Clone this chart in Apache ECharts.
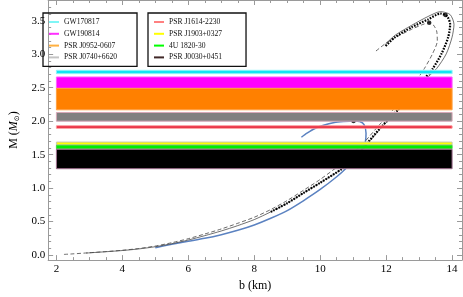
<!DOCTYPE html>
<html>
<head>
<meta charset="utf-8">
<script src="https://cdn.jsdelivr.net/npm/echarts@6/dist/echarts.min.js"></script>
<style>html,body{margin:0;padding:0;background:#fff}#c{width:463px;height:297px}</style>
</head>
<body>
<div id="c"></div>
<script>
// ---- data ----
var bandNames = ['GW170817','GW190814','PSR J0952-0607','PSR J0740+6620','PSR J1614-2230','PSR J1903+0327','4U 1820-30','PSR J0030+0451'];
var bandLo = [2.71, 2.49, 2.17, 2.00, 1.895, 1.646, 1.59, 1.29];
var bandHi = [2.76, 2.66, 2.49, 2.13, 1.93, 1.688, 1.64, 1.58];
var bandSpan = [2, 14];
// curve A (blue solid)
var curveA = [[5.0,0.11],[5.5,0.16],[6.0,0.205],[6.5,0.25],[7.0,0.305],[7.5,0.37],[8.0,0.45],[8.5,0.55],[9.0,0.665],[9.5,0.815],[10.0,0.98],[10.5,1.17],[10.77,1.29],[11.1,1.46],[11.3,1.6],[11.37,1.69],[11.39,1.82],[11.33,1.95],[11.2,1.995],[11.01,2.004],[10.7,1.995],[10.43,1.98],[10.1,1.94],[9.84,1.89],[9.6,1.82],[9.43,1.76]];
// curve B (thick dotted)
var curveB = [[8.5,0.645],[9.0,0.775],[9.5,0.93],[10.0,1.08],[10.66,1.29],[11.1,1.48],[11.453,1.686],[11.892,1.935],[12.331,2.155],[12.77,2.405],[13.121,2.61],[13.414,2.786],[13.677,3.006],[13.882,3.255],[13.94,3.446],[13.853,3.563],[13.648,3.607],[13.267,3.519],[12.77,3.402],[12.272,3.255],[11.98,3.123]];
// curve C (thin solid)
var curveC = [[2.9,0.03],[3.5,0.05],[4.0,0.068],[4.5,0.092],[5.0,0.125],[5.5,0.17],[6.0,0.225],[6.5,0.29],[7.0,0.36],[7.5,0.44],[8.0,0.53],[8.5,0.645],[9.0,0.775],[9.5,0.93],[10.0,1.08],[10.66,1.29],[11.1,1.48],[11.47,1.686],[11.91,1.935],[12.35,2.155],[12.8,2.405],[13.16,2.61],[13.53,2.786],[13.823,3.006],[13.999,3.255],[14.057,3.446],[13.94,3.592],[13.648,3.636],[13.267,3.563],[12.77,3.431],[12.272,3.284],[11.98,3.152]];
// curve D (thin dashed)
var curveD = [[2.23,0.01],[2.5,0.018],[3.0,0.035],[3.5,0.052],[4.0,0.072],[4.5,0.098],[5.0,0.135],[5.5,0.185],[6.0,0.245],[6.5,0.315],[7.0,0.39],[7.5,0.475],[8.0,0.565],[8.5,0.68],[9.0,0.815],[9.5,0.97],[10.0,1.13],[10.6,1.35],[11.0,1.53],[11.336,1.686],[11.775,1.935],[12.184,2.155],[12.594,2.405],[12.916,2.61],[13.159,2.786],[13.405,3.006],[13.551,3.201],[13.531,3.347],[13.434,3.435],[13.305,3.471],[13.062,3.435],[12.77,3.372],[12.281,3.251],[11.988,3.163],[11.649,3.031]];
// maximum-mass points
var maxPoints = [[11.01,2.004],[13.305,3.471],[13.80,3.585]];
// ticks
var xMajor = [2,4,6,8,10,12,14];
var xMinor = [2.5,3,3.5,4.5,5,5.5,6.5,7,7.5,8.5,9,9.5,10.5,11,11.5,12.5,13,13.5];
var yMajor = [0,0.5,1,1.5,2,2.5,3,3.5];
var yMinor = [0.1,0.2,0.3,0.4,0.6,0.7,0.8,0.9,1.1,1.2,1.3,1.4,1.6,1.7,1.8,1.9,2.1,2.2,2.3,2.4,2.6,2.7,2.8,2.9,3.1,3.2,3.3,3.4,3.6,3.7];

// ---- styles ----
var bandFill = ['#12e4f2','#ff00ff','#ff8000','#808080','#e3112b','#ffff00','#00ee00','#000000'];
var bandEdge = ['#90f2f8','#ff60ff','#ffa040','#d8a8b8','#ff9a9a','#c8c8b0','#40d040','#a07090'];
var legendCol = ['#7ff6f6','#ff30ff','#ffb040','#c4c4c4','#ff8080','#ffff00','#00ff00','#402828'];

var SERIF = '"Liberation Serif","DejaVu Serif",serif';
var XMIN = 1.75, XMAX = 14.3, YMIN = -0.075, YMAX = 3.81;
var AX = '#9a9a9a';

function xAx(pos, vals, len, showLabel, showLine, name) {
  return {
    type: 'value', position: pos, min: XMIN, max: XMAX,
    axisLine: {show: showLine, onZero: false, lineStyle: {color: AX, width: 1}},
    axisTick: {show: true, inside: true, length: len, customValues: vals, lineStyle: {color: AX, width: 1}},
    axisLabel: {show: showLabel, customValues: vals, color: '#000', fontFamily: SERIF, fontSize: 11, margin: 4},
    splitLine: {show: false},
    name: name || '', nameLocation: 'middle', nameGap: 17,
    nameTextStyle: {fontFamily: SERIF, fontSize: 12, color: '#000'}
  };
}
function yAx(pos, vals, len, showLabel, showLine, name) {
  return {
    type: 'value', position: pos, min: YMIN, max: YMAX,
    axisLine: {show: showLine, onZero: false, lineStyle: {color: AX, width: 1}},
    axisTick: {show: true, inside: true, length: len, customValues: vals, lineStyle: {color: AX, width: 1}},
    axisLabel: {show: showLabel, customValues: vals, color: '#000', fontFamily: SERIF, fontSize: 11, margin: 3,
      formatter: function (v) { return v.toFixed(1); }},
    splitLine: {show: false},
    name: name || '', nameLocation: 'middle', nameGap: 27, nameRotate: 90,
    nameTextStyle: {fontFamily: SERIF, fontSize: 12, color: '#000',
      rich: {a: {fontFamily: SERIF, fontSize: 12}, i: {fontFamily: SERIF, fontSize: 12, fontStyle: 'italic'},
             s: {fontFamily: '"DejaVu Sans",sans-serif', fontSize: 7, verticalAlign: 'bottom', padding: [6,0,0,0]}}}
  };
}

var series = [];
bandNames.forEach(function (nm, i) {
  series.push({
    name: nm, type: 'custom', z: 5, silent: true,
    itemStyle: {color: legendCol[i]},
    data: [[bandLo[i], bandHi[i]]],
    encode: {y: [0, 1]},
    renderItem: function (params, api) {
      var p0 = api.coord([bandSpan[0], api.value(1)]);
      var p1 = api.coord([bandSpan[1], api.value(0)]);
      return {type: 'rect', shape: {x: p0[0], y: p0[1], width: p1[0] - p0[0], height: p1[1] - p0[1]},
        style: {fill: bandFill[i], stroke: bandEdge[i], lineWidth: 1}};
    }
  });
});
function lineS(data, style) {
  return {type: 'line', data: data, showSymbol: false, smooth: 0.25, z: 2, lineStyle: style, silent: true};
}
series.push(lineS(curveA, {color: '#5b82c1', width: 1.5}));
series.push(lineS(curveC, {color: '#333', width: 0.7}));
series.push(lineS(curveD, {color: '#444', width: 0.8, type: [4, 2.5]}));
series.push(lineS(curveB, {color: '#000', width: 2.2, type: [1.6, 1.3]}));
series.push({type: 'scatter', data: maxPoints, symbolSize: 4.5, itemStyle: {color: '#000'}, z: 3, silent: true});

function legend(names, offs, left, width) {
  return {
    orient: 'vertical', left: left, top: 13, width: width,
    data: names.map(function (n, k) { return {name: n, icon: 'rect', itemStyle: {color: legendCol[offs + k]}}; }),
    itemWidth: 10, itemHeight: 2, itemGap: 3.8,
    padding: [5, 6, 5, 6],
    borderColor: '#111', borderWidth: 1.3,
    textStyle: {fontFamily: SERIF, fontSize: 7.6, color: '#111', padding: [0, 0, 0, 0]},
    selectedMode: false
  };
}

var chart = echarts.init(document.getElementById('c'), null, {renderer: 'canvas'});
chart.setOption({
  animation: false,
  grid: {left: 33, right: 1, top: 0, bottom: 32, containLabel: false},
  xAxis: [
    xAx('bottom', xMajor, 5, true, true, 'b (km)'),
    xAx('bottom', xMinor, 3, false, false),
    xAx('top', xMajor, 5, false, true),
    xAx('top', xMinor, 3, false, false)
  ],
  yAxis: [
    yAx('left', yMajor, 5, true, true, '{a|M (}{i|M}{s|⊙}{a|)}'),
    yAx('left', yMinor, 3, false, false),
    yAx('right', yMajor, 5, false, true),
    yAx('right', yMinor, 3, false, false)
  ],
  legend: [
    Object.assign(legend(bandNames.slice(0, 4), 0, 43, 80), {padding: [5, 20, 5, 6]}),
    Object.assign(legend(bandNames.slice(4), 4, 148, 80), {padding: [5, 24, 5, 6]})
  ],
  series: series
});
</script>
</body>
</html>
